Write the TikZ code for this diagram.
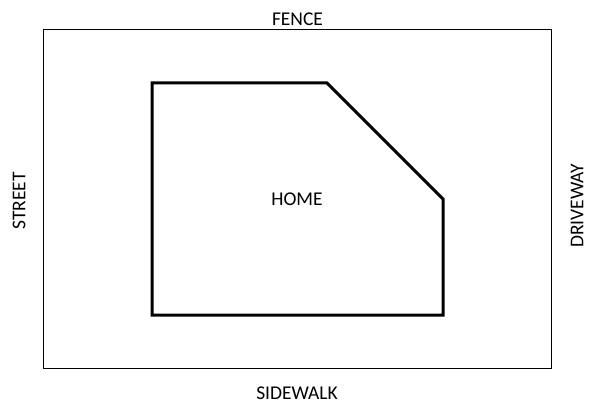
\documentclass[tikz,border=0pt]{standalone}
\usepackage{fontspec}
\setmainfont{Carlito}
\begin{document}
\begin{tikzpicture}[x=1pt, y=-1pt, font=\fontsize{19.5}{22}\selectfont]
        \useasboundingbox (0,0) rectangle (600,414);
        \draw[line width=1pt] (43,30) rectangle (551,368);
        \draw[line width=3pt, line join=miter] (152,83) -- (327,83) -- (443,199) -- (443,315) -- (152,315) -- cycle;

        \node (fence) at (297.5,19) {FENCE};
        \node (sidewalk) at (297,393) {SIDEWALK};
        \node[rotate=90] (street) at (19,201) {STREET};
        \node[rotate=90] (driveway) at (577,206) {DRIVEWAY};
        \node (home) at (297,199) {HOME};
    \end{tikzpicture}
\end{document}
